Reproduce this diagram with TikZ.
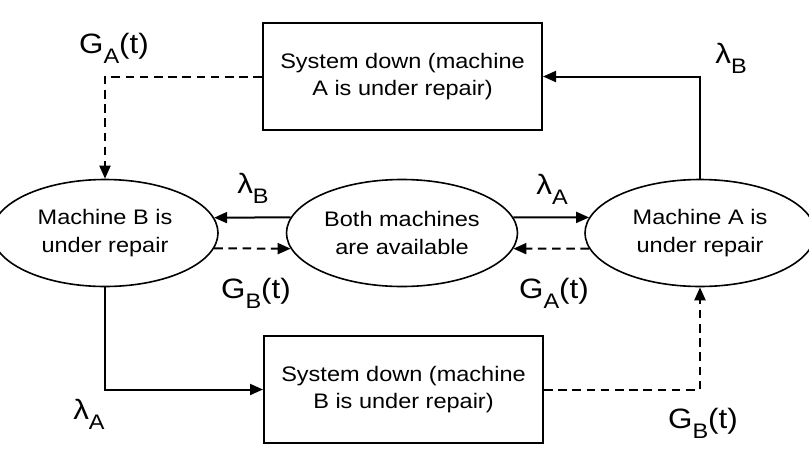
\documentclass[tikz,border=0pt]{standalone}
\usepackage{fontspec}
\setmainfont[FakeStretch=1.12]{Liberation Sans}
\usetikzlibrary{shapes.geometric,arrows.meta}
\newcommand\lsub[1]{\raisebox{-5pt}{\fontsize{10.5pt}{12pt}\selectfont #1}}
\begin{document}
\begin{tikzpicture}[x=0.5pt,y=-0.5pt,
  boxnode/.style={draw, line width=1pt, minimum width=139.5pt, minimum height=53.5pt, inner sep=0pt, align=center, font=\fontsize{10.5pt}{13.8pt}\selectfont},
  state/.style={draw, ellipse, line width=0.8pt, minimum height=53.5pt, inner sep=0pt, align=center, font=\fontsize{10.5pt}{13.8pt}\selectfont},
  lbl/.style={inner sep=0pt, font=\fontsize{14pt}{16pt}\selectfont},
  conn/.style={line width=1pt, -{Triangle[length=6.5pt,width=5.5pt]}},
  dconn/.style={conn, dash pattern=on 4.3pt off 2.8pt}]
\useasboundingbox (0,0) rectangle (809,450);
\node[boxnode] (top) at (402.5,76.5) {System down (machine\\A is under repair)};
\node[boxnode] (bot) at (403.5,389.5) {System down (machine\\B is under repair)};
\node[state, minimum width=113pt] (L) at (105,233) {Machine B is\\under repair};
\node[state, minimum width=115.5pt] (M) at (402,233) {Both machines\\are available};
\node[state, minimum width=115pt] (R) at (700,233) {Machine A is\\under repair};
\draw[dconn] (top.west) -| (L.north);
\draw[conn] (R.north) |- (top.east);
\draw[conn] (M.172) -- (L.8);
\draw[dconn] (L.-8.5) -- (M.188.5);
\draw[conn] (M.8) -- (R.172);
\draw[dconn] (R.188.5) -- (M.-8.5);
\draw[conn] (L.south) |- (bot.west);
\draw[dconn] (bot.east) -| (R.south);
\node[lbl] (l1) at (114,48) {G\lsub{A}(t)};
\node[lbl] (l2) at (731,58) {λ\lsub{B}};
\node[lbl] (l3) at (253,188) {λ\lsub{B}};
\node[lbl] (l4) at (256,293) {G\lsub{B}(t)};
\node[lbl] (l5) at (552,189) {λ\lsub{A}};
\node[lbl] (l6) at (554,293) {G\lsub{A}(t)};
\node[lbl] (l7) at (89,414) {λ\lsub{A}};
\node[lbl] (l8) at (703,423) {G\lsub{B}(t)};
\end{tikzpicture}
\end{document}
